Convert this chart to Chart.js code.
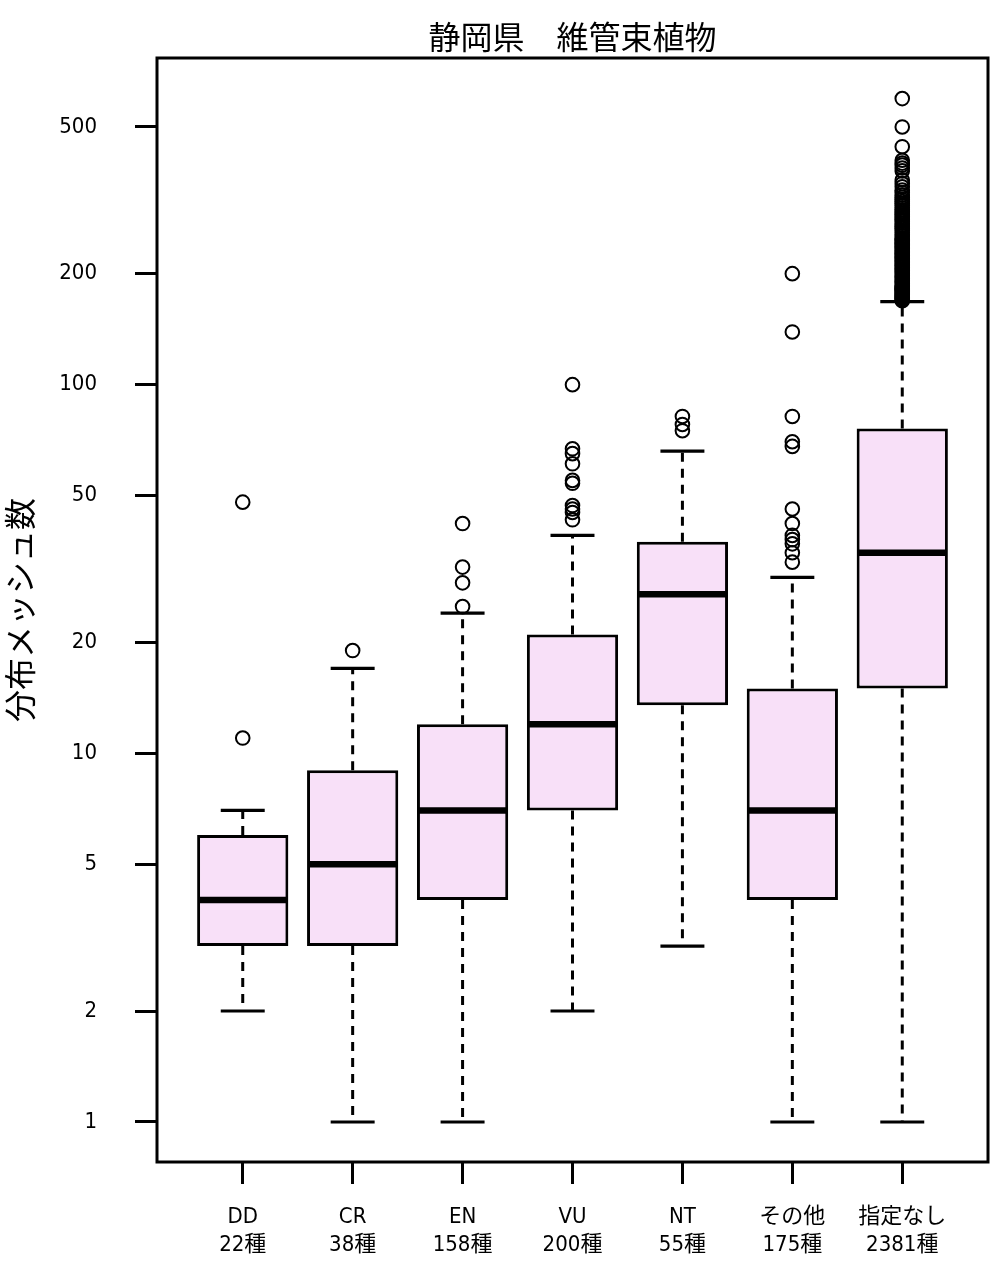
<!DOCTYPE html>
<html>
<head>
<meta charset="utf-8">
<script src="https://cdn.jsdelivr.net/npm/chart.js@4/dist/chart.umd.min.js"></script>
<style>
  html, body { margin: 0; padding: 0; background: #ffffff; }
  #wrap { width: 1000px; height: 1268px; }
</style>
</head>
<body>
<div id="wrap"><canvas id="c" width="1000" height="1268"></canvas></div>
<script>
// ---- data ----
const categories = ['DD', 'CR', 'EN', 'VU', 'NT', 'その他', '指定なし'];
const speciesCounts = ['22種', '38種', '158種', '200種', '55種', '175種', '2381種'];
const whiskerLow  = [2, 1, 1, 2, 3, 1, 1];
const q1          = [3, 3, 4, 7, 13.5, 4, 15];
const medians     = [4, 5, 7, 12, 27, 7, 35];
const q3          = [6, 9, 12, 21, 37.5, 15, 76];
const whiskerHigh = [7, 17, 24, 39, 66, 30, 168];
const outliersDD    = [48, 11];
const outliersCR    = [19];
const outliersEN    = [42, 32, 29, 25];
const outliersVU    = [100, 67, 65, 61, 55, 54, 47, 46, 45, 43];
const outliersNT    = [82, 78, 75];
const outliersOther = [200, 139, 82, 70, 68, 46, 42, 39, 38, 37, 35, 33];
const outliersNone  = [597, 500, 442, 406, 399, 394, 387, 380, 359, 351, 344, 337, 332, 327,
  322, 318, 314, 310, 306, 302, 298, 295, 292, 289, 286, 283, 280, 277, 274, 271, 268,
  265, 262, 259, 256, 253, 250, 248, 246, 244, 242, 240, 238, 236, 234, 232, 230, 228,
  226, 224, 222, 220, 218, 216, 214, 212, 210, 208, 206, 204, 202, 200, 198, 196, 194,
  192, 190, 188, 186, 185, 184, 183, 182, 181, 180, 179, 178, 177, 176, 175, 174, 173,
  172, 171, 170, 169];
const yTicks = [1, 2, 5, 10, 20, 50, 100, 200, 500];
const chartTitle = '静岡県　維管束植物';
const yTitle = '分布メッシュ数';

const outlierGroups = [outliersDD, outliersCR, outliersEN, outliersVU, outliersNT, outliersOther, outliersNone];

const boxData = categories.map((c, i) => ({ x: i + 1, y: [q1[i], q3[i]] }));
const outlierData = outlierGroups.flatMap((arr, i) => arr.map(v => ({ x: i + 1, y: v })));

const LATIN_NARROW = "'DejaVu Sans Condensed', 'Noto Sans CJK JP', sans-serif";
const CJK = "'Noto Sans CJK JP', sans-serif";

const boxParts = {
  id: 'boxParts',
  beforeDatasetsDraw(chart) {
    const ctx = chart.ctx, xs = chart.scales.x, ys = chart.scales.y;
    const capHalf = xs.getPixelForValue(1.2) - xs.getPixelForValue(1);
    ctx.save();
    ctx.strokeStyle = '#000';
    categories.forEach((c, i) => {
      const x = xs.getPixelForValue(i + 1);
      // dashed whiskers
      ctx.lineWidth = 3;
      ctx.setLineDash([9, 7]);
      ctx.beginPath();
      ctx.moveTo(x, ys.getPixelForValue(q3[i]));
      ctx.lineTo(x, ys.getPixelForValue(whiskerHigh[i]));
      ctx.moveTo(x, ys.getPixelForValue(q1[i]));
      ctx.lineTo(x, ys.getPixelForValue(whiskerLow[i]));
      ctx.stroke();
      // caps
      ctx.setLineDash([]);
      ctx.lineWidth = 3.2;
      ctx.beginPath();
      [whiskerHigh[i], whiskerLow[i]].forEach(v => {
        const y = ys.getPixelForValue(v);
        ctx.moveTo(x - capHalf, y);
        ctx.lineTo(x + capHalf, y);
      });
      ctx.stroke();
    });
    ctx.restore();
  },
  afterDatasetDraw(chart, args) {
    if (args.index !== 0) return;
    const ctx = chart.ctx, ys = chart.scales.y;
    const meta = chart.getDatasetMeta(0);
    ctx.save();
    ctx.strokeStyle = '#000';
    ctx.lineWidth = 6.5;
    ctx.beginPath();
    meta.data.forEach((bar, i) => {
      const p = bar.getProps(['x', 'width'], true);
      const y = ys.getPixelForValue(medians[i]);
      ctx.moveTo(p.x - p.width / 2 + 1, y);
      ctx.lineTo(p.x + p.width / 2 - 1, y);
    });
    ctx.stroke();
    ctx.restore();
  },
  afterDraw(chart) {
    const ctx = chart.ctx, a = chart.chartArea;
    ctx.save();
    ctx.strokeStyle = '#000';
    ctx.lineWidth = 3;
    ctx.strokeRect(a.left, a.top, a.right - a.left, a.bottom - a.top);
    ctx.restore();
  }
};

new Chart(document.getElementById('c'), {
  type: 'bar',
  data: {
    datasets: [
      {
        type: 'bar',
        data: boxData,
        backgroundColor: 'rgb(248,224,248)',
        borderColor: '#000',
        borderWidth: 3,
        borderSkipped: false,
        categoryPercentage: 0.83,
        barPercentage: 1.0,
        order: 2
      },
      {
        type: 'scatter',
        data: outlierData,
        pointStyle: 'circle',
        pointRadius: 6.8,
        pointBackgroundColor: 'rgba(0,0,0,0)',
        pointBorderColor: '#000',
        pointBorderWidth: 2,
        order: 1
      }
    ]
  },
  options: {
    responsive: false,
    devicePixelRatio: 1,
    animation: false,
    layout: { padding: { top: 0, left: 0, right: 12, bottom: 0 } },
    plugins: {
      legend: { display: false },
      tooltip: { enabled: false },
      title: {
        display: true,
        text: chartTitle,
        fullSize: false,
        color: '#000',
        font: { family: CJK, size: 32, weight: 'normal', lineHeight: '38px' },
        padding: { top: 18, bottom: 2 }
      }
    },
    scales: {
      x: {
        type: 'linear',
        min: 0.22,
        max: 7.78,
        offset: false,
        afterFit(scale) { scale.height = 106; },
        afterBuildTicks(scale) { scale.ticks = categories.map((c, i) => ({ value: i + 1 })); },
        grid: { display: true, drawOnChartArea: false, drawTicks: true, tickLength: 22, tickWidth: 3, tickColor: '#000', offset: false },
        border: { display: false },
        ticks: {
          color: '#000',
          autoSkip: false,
          maxRotation: 0,
          padding: 19,
          font: { family: LATIN_NARROW, size: 22, lineHeight: '28px' },
          callback(value) {
            const i = Math.round(value) - 1;
            return [categories[i], speciesCounts[i]];
          }
        }
      },
      y: {
        type: 'logarithmic',
        min: 0.7789,
        max: 769.2,
        afterFit(scale) { scale.width = 157; },
        afterBuildTicks(scale) { scale.ticks = yTicks.map(v => ({ value: v })); },
        grid: { display: true, drawOnChartArea: false, drawTicks: true, tickLength: 22, tickWidth: 3, tickColor: '#000' },
        border: { display: false },
        title: {
          display: true,
          text: yTitle,
          color: '#000',
          font: { family: CJK, size: 32, weight: 'normal', lineHeight: 1.2 },
          padding: { top: 1, bottom: 0 }
        },
        ticks: {
          color: '#000',
          autoSkip: false,
          padding: 38,
          font: { family: LATIN_NARROW, size: 22 },
          callback(value) { return String(value); }
        }
      }
    }
  },
  plugins: [boxParts]
});
</script>
</body>
</html>
